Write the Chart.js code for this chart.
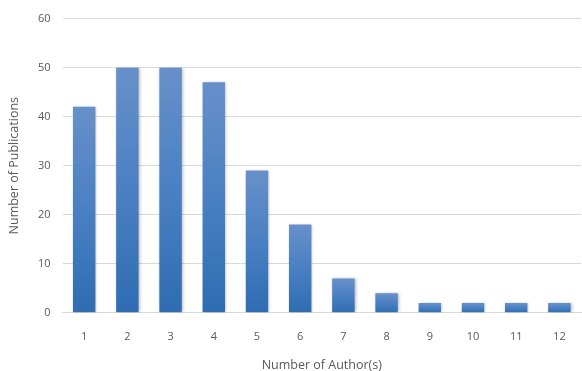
<!DOCTYPE html>
<html>
<head>
<meta charset="utf-8">
<script src="https://cdn.jsdelivr.net/npm/chart.js@4/dist/chart.umd.min.js"></script>
<style>
  html, body { margin: 0; padding: 0; background: #ffffff; }
  #wrap { width: 582px; height: 371px; }
</style>
</head>
<body>
<div id="wrap"><canvas id="c" width="582" height="371"></canvas></div>
<script>
// Number of publications grouped by how many authors they have
const authorCounts = ['1', '2', '3', '4', '5', '6', '7', '8', '9', '10', '11', '12'];
const publications = [42, 50, 50, 47, 29, 18, 7, 4, 2, 2, 2, 2];
const yTicks = [0, 10, 20, 30, 40, 50, 60];

const FONT = "'Open Sans', 'Liberation Sans', sans-serif";
const TEXT = '#595959';

// Vertical gradient per bar: lighter at the top, deeper blue at the base
function barFill(ctx) {
  const chart = ctx.chart;
  const y = chart.scales.y;
  if (!y || ctx.type !== 'data') return '#4a7ebf';
  const top = y.getPixelForValue(ctx.raw);
  const base = y.getPixelForValue(0);
  if (!isFinite(top) || !isFinite(base) || base - top < 1) return '#4a7ebf';
  const g = chart.ctx.createLinearGradient(0, top, 0, base);
  g.addColorStop(0, '#6790c9');
  g.addColorStop(0.5, '#4a80c3');
  g.addColorStop(1, '#2f6cb2');
  return g;
}

// Soft drop shadow under the bars
const barShadow = {
  id: 'barShadow',
  beforeDatasetsDraw(chart) {
    const c = chart.ctx;
    c.save();
    c.shadowColor = 'rgba(0,0,0,0.28)';
    c.shadowBlur = 3;
    c.shadowOffsetX = 1;
    c.shadowOffsetY = 0;
  },
  afterDatasetsDraw(chart) {
    chart.ctx.restore();
  }
};

new Chart(document.getElementById('c'), {
  type: 'bar',
  data: {
    labels: authorCounts,
    datasets: [{
      data: publications,
      backgroundColor: barFill,
      borderWidth: 0,
      categoryPercentage: 1.0,
      barPercentage: 0.52
    }]
  },
  options: {
    responsive: false,
    animation: false,
    devicePixelRatio: 1,
    layout: { padding: { top: 8, right: 1, bottom: -2, left: 7 } },
    plugins: {
      legend: { display: false },
      tooltip: { enabled: false }
    },
    scales: {
      x: {
        grid: { display: false },
        border: { display: true, color: '#d9d9d9' },
        ticks: { color: TEXT, font: { family: FONT, size: 11 }, padding: 9 },
        title: {
          display: true,
          text: 'Number of Author(s)',
          color: TEXT,
          font: { family: FONT, size: 12.5 },
          padding: { top: 6, bottom: 0 }
        }
      },
      y: {
        min: 0,
        max: 60,
        afterBuildTicks(axis) { axis.ticks = yTicks.map(v => ({ value: v })); },
        grid: { color: '#d9d9d9', lineWidth: 1, drawTicks: false },
        border: { display: false },
        ticks: { color: TEXT, font: { family: FONT, size: 11 }, padding: 12 },
        title: {
          display: true,
          text: 'Number of Publications',
          color: TEXT,
          font: { family: FONT, size: 12.5 },
          padding: { top: 0, bottom: 4 }
        }
      }
    }
  },
  plugins: [barShadow]
});
</script>
</body>
</html>
